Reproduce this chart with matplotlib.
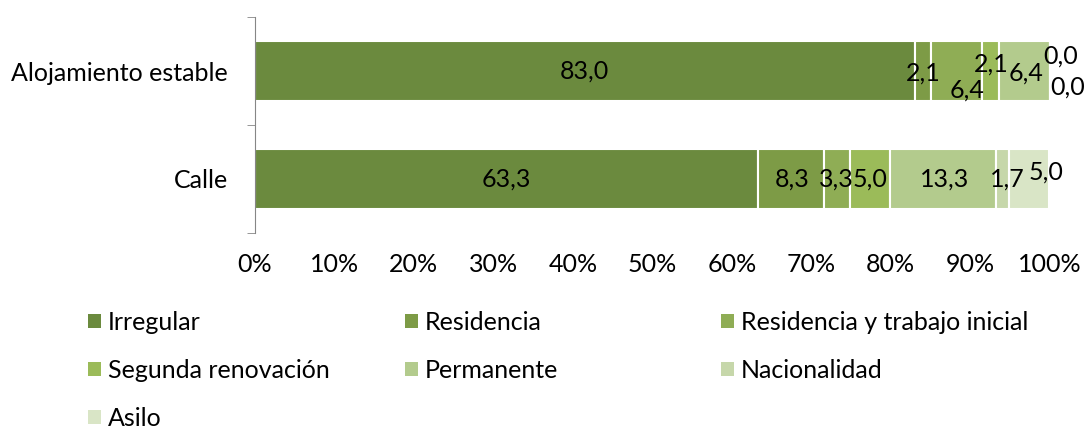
import numpy as np
import matplotlib.pyplot as plt
from matplotlib.patches import Patch

plt.rcParams['font.family'] = ['Lato', 'DejaVu Sans']

categories = ['Calle', 'Alojamiento estable']
series = ['Irregular', 'Residencia', 'Residencia y trabajo inicial',
          'Segunda renovación', 'Permanente', 'Nacionalidad', 'Asilo']
calle = [63.3, 8.3, 3.3, 5.0, 13.3, 1.7, 5.0]
alojamiento = [83.0, 2.1, 6.4, 2.1, 6.4, 0.0, 0.0]
xticks = [0, 10, 20, 30, 40, 50, 60, 70, 80, 90, 100]

colors = ['#6b8a3e', '#7d9b46', '#8fad55', '#9bbb59', '#b3cb8d', '#c6d7aa', '#d9e5c6']

# label nudges in pixels (dx, dy), to mimic the overlapping layout
off_aloj = [(0, 0), (0, -2), (10, -19), (1, 7), (2, -2), (11, 15), (18, -16)]
off_calle = [(0, 0), (1, 0), (-1, 0), (0, 0), (2, 0), (5, 0), (17, 7)]

data = np.array([calle, alojamiento])
fs = 18

fig = plt.figure(figsize=(10.89, 4.28), dpi=100)
ax = fig.add_axes([0.234, 0.451, 0.730, 0.514])

y = np.arange(len(categories))
left = np.zeros(len(categories))
for i, name in enumerate(series):
    vals = data[:, i]
    ax.barh(y, vals, left=left, height=0.56, color=colors[i],
            edgecolor='white', linewidth=1.5, label=name)
    for j in range(len(categories)):
        off = off_calle[i] if j == 0 else off_aloj[i]
        txt = f'{vals[j]:.1f}'.replace('.', ',')
        ax.annotate(txt, (left[j] + vals[j] / 2, y[j]),
                    xytext=(off[0] * 0.72, off[1] * 0.72), textcoords='offset points',
                    ha='center', va='center', fontsize=fs, color='black',
                    annotation_clip=False)
    left = left + vals

ax.set_xlim(0, 100)
ax.set_ylim(-0.52, 1.52)
ax.set_xticks(xticks)
ax.set_xticklabels([f'{t}%' for t in xticks], fontsize=fs)
ax.set_yticks(y)
ax.set_yticklabels(categories, fontsize=fs)
ax.set_yticks([-0.5, 0.5, 1.5], minor=True)
ax.tick_params(axis='y', which='major', length=0, pad=19.5)
ax.tick_params(axis='y', which='minor', length=6, color='#868686')
ax.tick_params(axis='x', length=0, pad=13)
for s in ['top', 'right', 'bottom']:
    ax.spines[s].set_visible(False)
ax.spines['left'].set_color('#868686')
ax.spines['left'].set_bounds(-0.5, 1.5)

handles = [Patch(facecolor=c, edgecolor='none') for c in colors]
cols = [[0, 3, 6], [1, 4], [2, 5]]
xs = [0.0808, 0.372, 0.662]
for xpos, idx in zip(xs, cols):
    fig.legend([handles[k] for k in idx], [series[k] for k in idx],
               loc='upper left', bbox_to_anchor=(xpos, 0.274), frameon=False,
               fontsize=fs, handlelength=0.52, handleheight=0.52, handletextpad=0.28,
               labelspacing=1.0, borderaxespad=0, borderpad=0)

fig.savefig('out.png', dpi=100)
